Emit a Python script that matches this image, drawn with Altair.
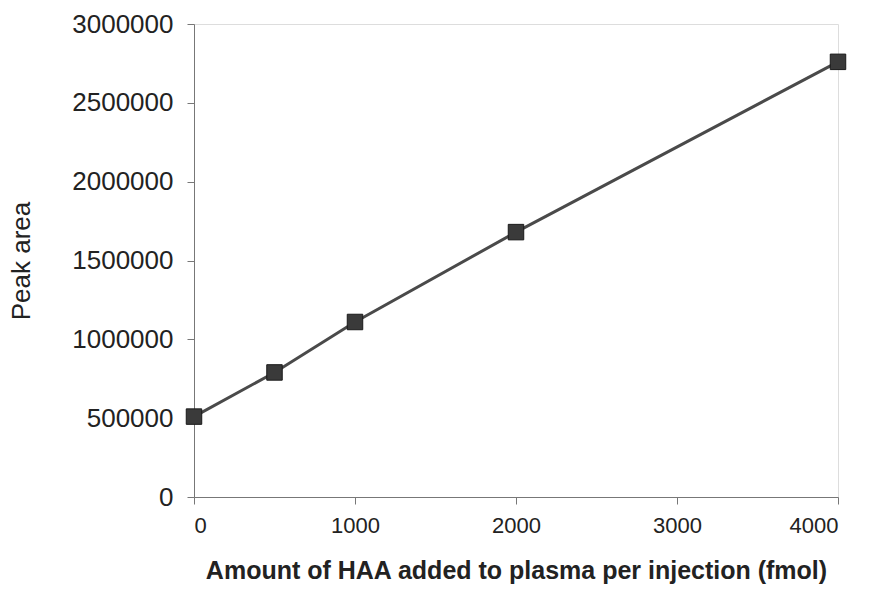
import altair as alt
import pandas as pd

amount = [0, 500, 1000, 2000, 4000]
peak_area = [510000, 790000, 1110000, 1680000, 2760000]

df = pd.DataFrame({"amount": amount, "area": peak_area})

x = alt.X("amount:Q",
          scale=alt.Scale(domain=[0, 4000], nice=False, zero=True),
          axis=alt.Axis(values=[0, 1000, 2000, 3000, 4000], title="Amount of HAA added to plasma per injection (fmol)",
                        format="d",
                        grid=False, tickSize=7, labelPadding=11, labelFontSize=22, titleFontSize=25,
                        titleFontWeight="bold", titlePadding=22, domainColor="#777", tickColor="#777",
                        labelColor="#222", titleColor="#222", labelFont="Liberation Sans", titleFont="Liberation Sans"))
y = alt.Y("area:Q",
          scale=alt.Scale(domain=[0, 3000000], nice=False),
          axis=alt.Axis(values=[0, 500000, 1000000, 1500000, 2000000, 2500000, 3000000], title="Peak area",
                        grid=False, tickSize=7, labelPadding=14, labelFontSize=26, titleFontSize=26,
                        titleFontWeight="normal", titlePadding=37, domainColor="#777", tickColor="#777",
                        labelColor="#222", titleColor="#222", labelFont="Liberation Sans", titleFont="Liberation Sans",
                        format="d"))

base = alt.Chart(df)
line = base.mark_line(color="#4a4a4a", strokeWidth=3).encode(x=x, y=y)
pts = base.mark_point(shape="square", filled=True, size=240, color="#3a3a3a", opacity=1,
                      stroke="#1a1a1a", strokeWidth=1).encode(x=x, y=y)

chart = (line + pts).properties(
    width=644, height=473,
    autosize=alt.AutoSizeParams(type="none"),
    padding={"left": 194, "top": 24, "right": 36, "bottom": 92},
).configure_view(stroke=None).configure(background="white")

chart.save("out.html", embed_options={"renderer": "svg", "actions": False})
